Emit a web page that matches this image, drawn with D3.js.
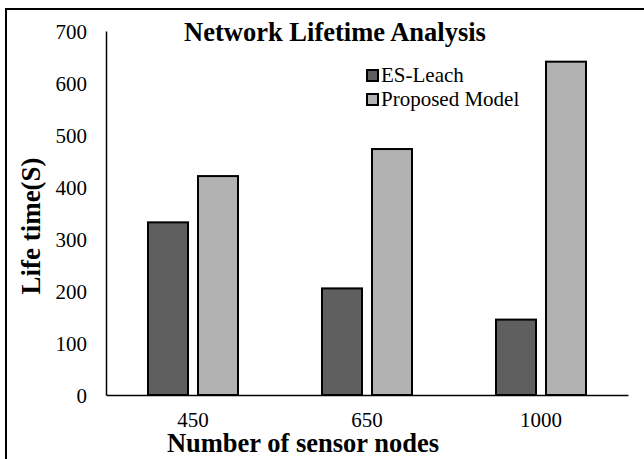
<!DOCTYPE html>
<html>
<head>
<meta charset="utf-8">
<script src="https://cdn.jsdelivr.net/npm/d3@7"></script>
<style>
  body { margin: 0; background: #fff; }
  text { font-family: "Liberation Serif", "Times New Roman", serif; fill: #000; }
</style>
</head>
<body>
<div id="chart"></div>
<script>
var categories = ["450", "650", "1000"];
var seriesNames = ["ES-Leach", "Proposed Model"];
var esLeach = [332, 205, 145];
var proposed = [421, 473, 641];
var yTicks = [0, 100, 200, 300, 400, 500, 600, 700];
var colors = ["#5f5f5f", "#b2b2b2"];

var width = 644, height = 459;
var margin = {top: 31, right: 16, bottom: 64, left: 106};

var svg = d3.select("#chart").append("svg")
    .attr("width", width)
    .attr("height", height);

// outer frame (right / bottom fall off the picture)
svg.append("rect")
    .attr("x", 6).attr("y", 9)
    .attr("width", 660).attr("height", 470)
    .attr("fill", "none")
    .attr("stroke", "#000")
    .attr("stroke-width", 2);

var x0 = d3.scaleBand()
    .domain(categories)
    .range([margin.left, width - margin.right]);

var x1 = d3.scaleBand()
    .domain(seriesNames)
    .range([0, 90])
    .paddingInner(0.2);

var y = d3.scaleLinear()
    .domain([0, 700])
    .range([height - margin.bottom, margin.top]);

var rows = categories.map(function(c, i) {
    return {cat: c, values: [esLeach[i], proposed[i]]};
});

var groups = svg.selectAll(".grp")
    .data(rows)
    .enter().append("g")
    .attr("class", "grp")
    .attr("transform", function(d) {
        return "translate(" + (x0(d.cat) + (x0.bandwidth() - 90) / 2) + ",0)";
    });

groups.selectAll("rect")
    .data(function(d) { return d.values.map(function(v, j) { return {name: seriesNames[j], v: v, j: j}; }); })
    .enter().append("rect")
    .attr("x", function(d) { return x1(d.name); })
    .attr("y", function(d) { return y(d.v); })
    .attr("width", x1.bandwidth())
    .attr("height", function(d) { return y(0) - y(d.v); })
    .attr("fill", function(d) { return colors[d.j]; })
    .attr("stroke", "#000")
    .attr("stroke-width", 2);

// axes
var yAxis = svg.append("g")
    .attr("transform", "translate(" + margin.left + ",0)")
    .call(d3.axisLeft(y).tickValues(yTicks).tickSize(0).tickPadding(19));
yAxis.select(".domain").attr("stroke", "#000").attr("stroke-width", 1.5);
yAxis.selectAll("text")
    .style("font-size", "21px")
    .style("font-family", "Liberation Serif, serif")
    .attr("dy", "0.35em");

var xAxis = svg.append("g")
    .attr("transform", "translate(0," + y(0) + ")")
    .call(d3.axisBottom(x0).tickSize(0).tickPadding(17));
xAxis.select(".domain").attr("stroke", "#000").attr("stroke-width", 1.5);
xAxis.selectAll("text")
    .style("font-size", "21px")
    .style("font-family", "Liberation Serif, serif");

// titles
svg.append("text")
    .attr("x", 335).attr("y", 41)
    .attr("text-anchor", "middle")
    .style("font-size", "26.5px")
    .style("font-weight", "bold")
    .text("Network Lifetime Analysis");

svg.append("text")
    .attr("x", 303).attr("y", 452)
    .attr("text-anchor", "middle")
    .style("font-size", "26.5px")
    .style("font-weight", "bold")
    .text("Number of sensor nodes");

svg.append("text")
    .attr("transform", "translate(40,226) rotate(-90)")
    .attr("text-anchor", "middle")
    .style("font-size", "27px")
    .style("font-weight", "bold")
    .text("Life time(S)");

// legend
var legend = svg.selectAll(".leg")
    .data(seriesNames)
    .enter().append("g")
    .attr("class", "leg")
    .attr("transform", function(d, i) { return "translate(367," + (70 + i * 24) + ")"; });

legend.append("rect")
    .attr("width", 11).attr("height", 11)
    .attr("fill", function(d, i) { return colors[i]; })
    .attr("stroke", "#000")
    .attr("stroke-width", 2);

legend.append("text")
    .attr("x", 14).attr("y", 12)
    .style("font-size", "21px")
    .text(function(d) { return d; });
</script>
</body>
</html>
